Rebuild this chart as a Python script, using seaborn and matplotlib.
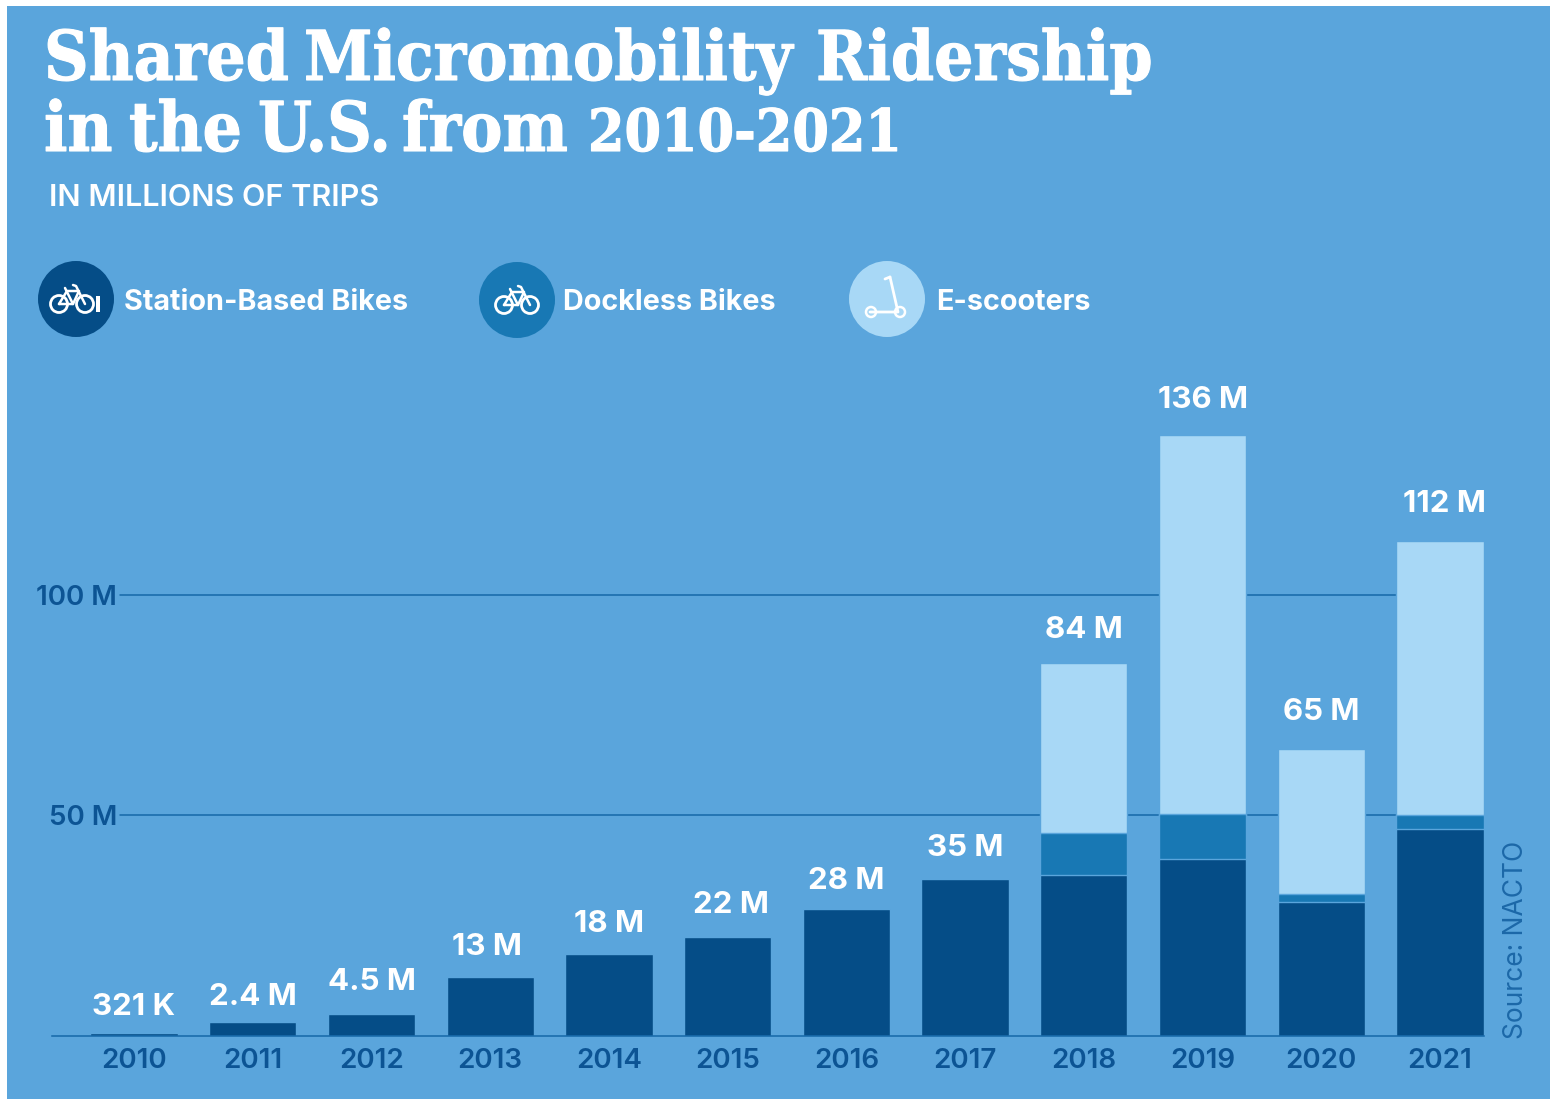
import matplotlib
matplotlib.use("Agg")
import matplotlib.pyplot as plt
import matplotlib.patheffects as pe
from matplotlib.patches import Circle, Rectangle
import seaborn as sns

years = ["2010", "2011", "2012", "2013", "2014", "2015", "2016", "2017", "2018", "2019", "2020", "2021"]
station = [0.7, 3.1, 5.0, 13.4, 18.6, 22.4, 28.8, 35.6, 36.5, 40.1, 30.4, 46.9]
dockless = [0, 0, 0, 0, 0, 0, 0, 0, 9.5, 10.2, 1.8, 3.2]
scooters = [0, 0, 0, 0, 0, 0, 0, 0, 38.6, 86.0, 32.8, 62.1]
total_labels = ["321 K", "2.4 M", "4.5 M", "13 M", "18 M", "22 M", "28 M", "35 M", "84 M", "136 M", "65 M", "112 M"]

BG = "#5AA5DC"
DARK = "#054D87"
MID = "#1878B4"
LIGHT = "#A8D8F6"
TICK = "#0C5494"
GRID = "#1668A8"
SANS = "Inter"
SERIF = "DejaVu Serif"

sns.set_theme(style="white")
plt.rcParams["font.family"] = [SANS, "DejaVu Sans"]

W, H = 1550, 1099
fig = plt.figure(figsize=(W / 100, H / 100), dpi=100, facecolor="white")

# overlay in pixel coordinates for the panel, header and legend
bg = fig.add_axes([0, 0, 1, 1], zorder=0)
bg.set_xlim(0, W)
bg.set_ylim(H, 0)
bg.axis("off")
bg.add_patch(Rectangle((7, 6), 1543, 1093, color=BG, lw=0))

ax = fig.add_axes([52 / W, (H - 1036) / H, 1432 / W, 656 / H], zorder=1)
ax.patch.set_alpha(0)

for level in (50, 100):
    ax.axhline(level, xmin=0.0475, xmax=0.939, color=GRID, lw=1.1, zorder=0)

# stacked bars drawn from the tallest layer forward
top_dock = [a + b for a, b in zip(station, dockless)]
top_all = [a + b for a, b in zip(top_dock, scooters)]
for vals, col in ((top_all, LIGHT), (top_dock, MID), (station, DARK)):
    sns.barplot(x=years, y=vals, color=col, saturation=1, width=0.735,
                edgecolor=BG, linewidth=1, ax=ax, zorder=2)

# hand nudges (pixels) so labels sit where the original has them
nudge_x = [0, 0, 1, -3, 0, 3, 0, 0, 0, 0, 0, 4]
nudge_y = [-7, -8, -1, -3, -3, -1, -5, -2, 0, 2, 4, 4]
for i, (top, lab) in enumerate(zip(top_all, total_labels)):
    ax.annotate(lab, (i, top), xytext=(nudge_x[i] * 0.72, 24 + nudge_y[i] * 0.72), textcoords="offset points",
                ha="center", va="center", color="white", fontsize=22.5, fontweight="bold")

ax.set_xlim(-0.69, 11.37)
ax.set_ylim(0, 148.75)
ax.set_yticks([50, 100])
ax.set_yticklabels(["50 M", "100 M"], fontweight="semibold")
ax.set_xticks(range(12))
ax.set_xticklabels(years, fontweight="semibold")
ax.tick_params(axis="y", length=0, pad=-47, labelsize=20, labelcolor=TICK)
ax.tick_params(axis="x", length=0, pad=9, labelsize=20, labelcolor=TICK)
sns.despine(ax=ax, left=True)
ax.spines["bottom"].set_color(GRID)
ax.spines["bottom"].set_linewidth(1.1)

# header, word by word because the serif's word gaps are wider than the original's
title_kw = dict(family=SERIF, stretch="condensed", fontweight="bold", color="white", va="baseline",
                path_effects=[pe.withStroke(linewidth=0.8, foreground="white")])
for word, tx, ty in (("Shared", 44, 80), ("Micromobility", 304, 80), ("Ridership", 816, 80),
                     ("in", 44, 151), ("the", 129, 151), ("U.S.", 258, 151), ("from", 402, 151)):
    bg.text(tx, ty, word, fontsize=49.5, **title_kw)
bg.text(588, 151, "2010-2021", fontsize=42, **title_kw)
bg.text(49, 198, "IN MILLIONS OF TRIPS", fontsize=22, color="white", va="center", fontweight="semibold")


def bike(cx, cy):
    kw = dict(color="white", lw=1.8, solid_capstyle="round", zorder=4)
    for dx in (-13, 13):
        bg.add_patch(Circle((cx + dx, cy + 6), 8.5, fill=False, ec="white", lw=2, zorder=4))
    bg.plot([cx - 13, cx - 5, cx + 7, cx + 1, cx - 13], [cy + 6, cy - 7, cy - 7, cy + 6, cy + 6], **kw)
    bg.plot([cx - 7, cx + 1], [cy - 10, cy + 6], **kw)
    bg.plot([cx + 13, cx + 4, cx + 1], [cy + 6, cy - 12, cy - 13], **kw)


bg.add_patch(Circle((76, 299), 38, color=DARK, lw=0, zorder=3))
bike(72, 298)
bg.add_patch(Rectangle((96, 296), 4, 16, color="white", lw=0, zorder=4))
bg.add_patch(Circle((517, 300), 38, color=MID, lw=0, zorder=3))
bike(517, 299)
bg.add_patch(Circle((887, 299), 38, color=LIGHT, lw=0, zorder=3))
bg.plot([890, 898, 870], [277, 312, 312], color="white", lw=2, zorder=4)
bg.plot([890, 885], [277, 279], color="white", lw=2, zorder=4)
for sx in (871, 900):
    bg.add_patch(Circle((sx, 312), 5, fill=False, ec="white", lw=1.8, zorder=4))

legend_names = ["Station-Based Bikes", "Dockless Bikes", "E-scooters"]
for name, tx, ty in zip(legend_names, (124, 563, 936), (303, 302, 302)):
    bg.text(tx, ty, name, fontsize=20.7, color="white", va="center", fontweight="bold")

fig.text(1516 / W, 1 - 940 / H, "Source: NACTO", rotation=90, ha="center", va="center", fontsize=19,
         color="#1C68A8", zorder=5)

fig.savefig("out.png", dpi=100, facecolor="white")
